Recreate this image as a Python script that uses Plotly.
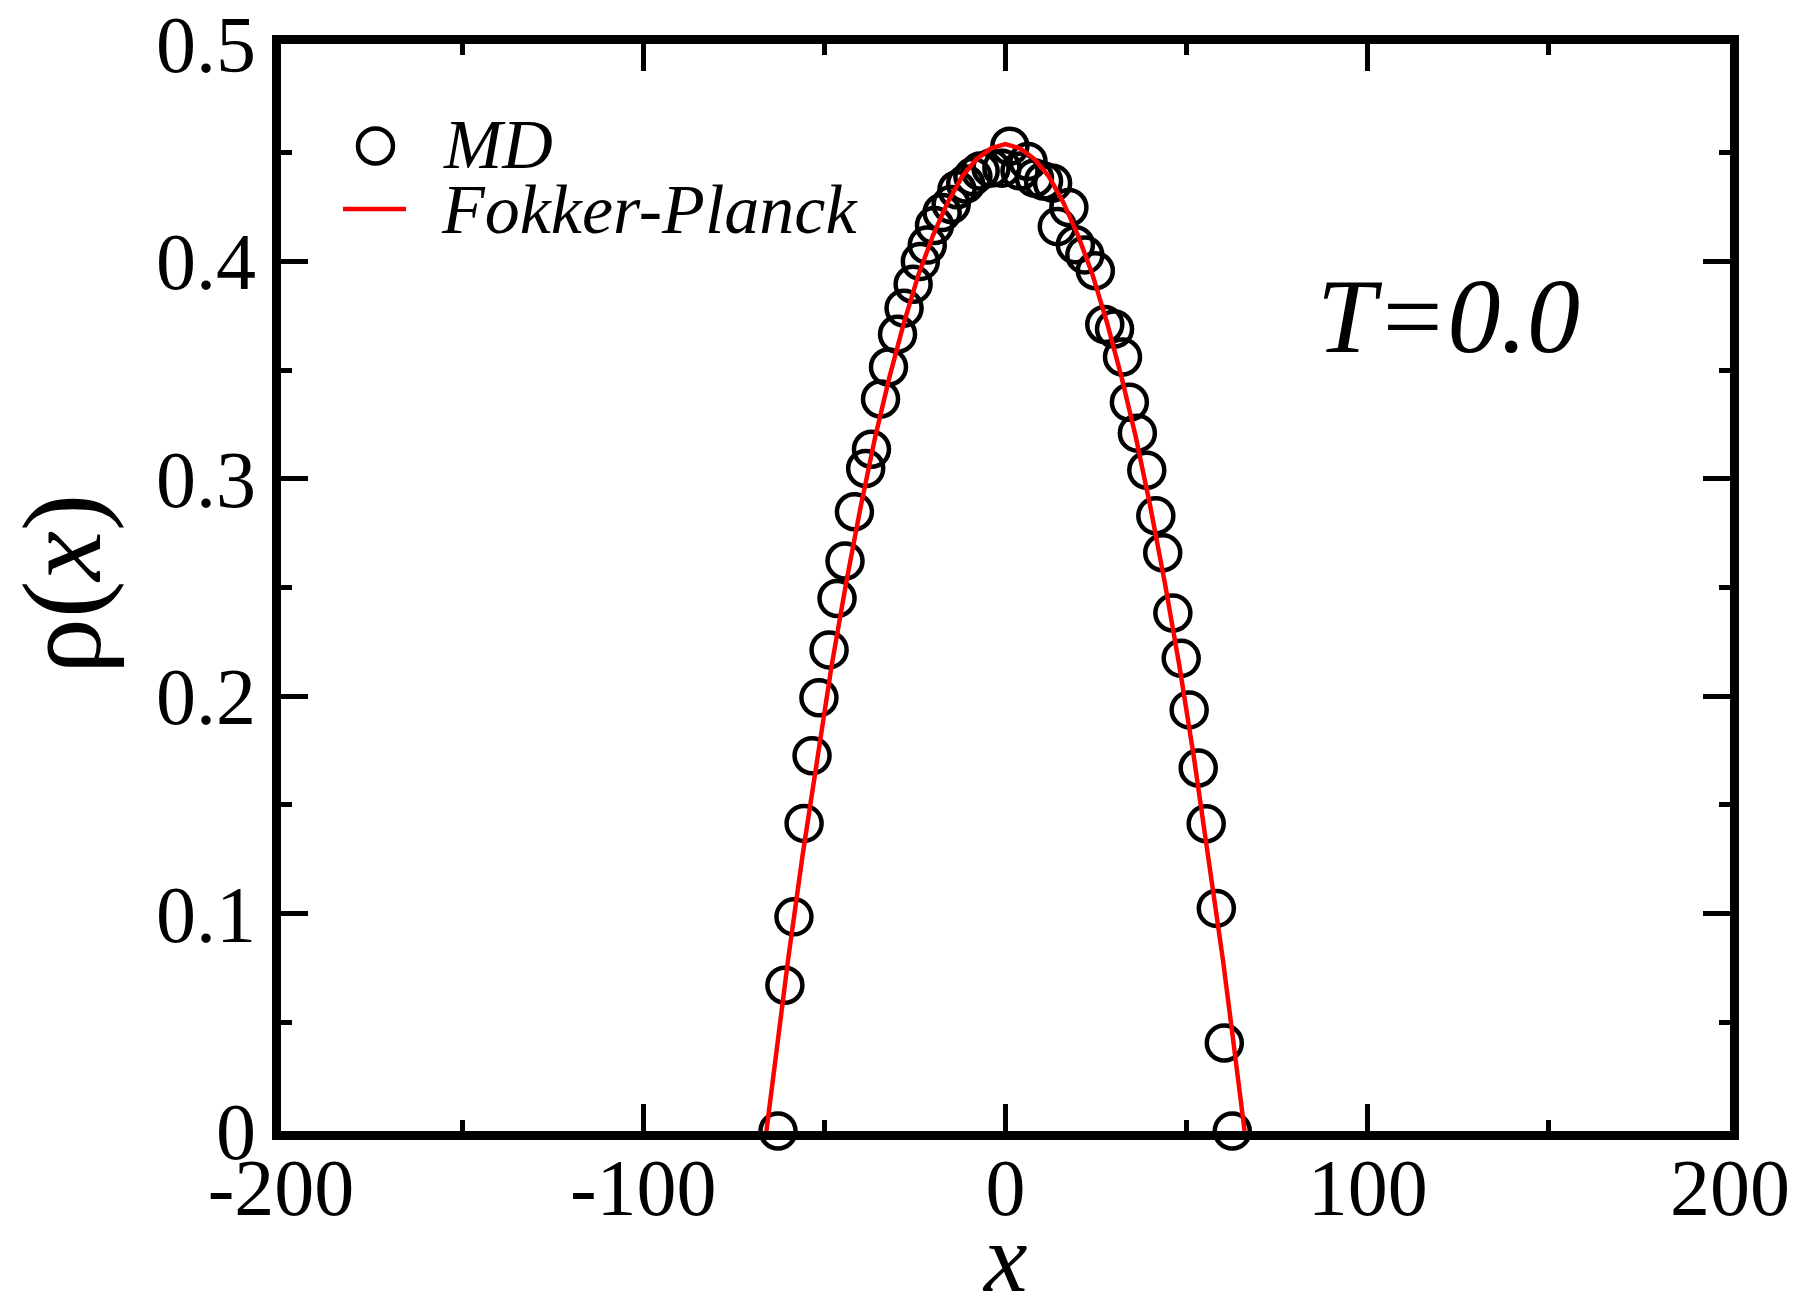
import plotly.graph_objects as go

# ---- data ----
md_x = [-62.8, -60.9, -58.4, -55.6, -53.4, -51.5, -48.7, -46.5, -44.3, -41.7,
        -38.6, -37.0, -34.5, -32.3, -29.8, -28.0, -25.5, -23.5, -21.6, -19.6,
        -17.5, -15.0, -13.4, -11.0, -9.0, -7.0, -4.0, -1.0, 1.2, 4.0,
        6.2, 8.0, 10.5, 13.0, 14.3, 17.5, 19.3, 21.9, 24.8, 27.4,
        30.1, 32.3, 34.2, 36.4, 39.0, 41.5, 43.4, 46.2, 48.5, 50.7,
        53.2, 55.4, 58.2, 60.4, 62.6]
md_y = [0.0, 0.067, 0.0985, 0.1415, 0.1726, 0.1993, 0.2213, 0.2449, 0.2622, 0.2848,
        0.3047, 0.3136, 0.3367, 0.3514, 0.3665, 0.3785, 0.3895, 0.4000, 0.4075, 0.4165,
        0.4225, 0.4262, 0.4330, 0.4356, 0.4390, 0.4416, 0.4430, 0.4429, 0.4530, 0.4416,
        0.4460, 0.4384, 0.4370, 0.4360, 0.4160, 0.4248, 0.4077, 0.4030, 0.3957, 0.3710,
        0.3689, 0.3560, 0.3352, 0.3210, 0.3039, 0.2830, 0.2660, 0.2383, 0.2174, 0.1937,
        0.1670, 0.1413, 0.1024, 0.0405, 0.0]

fp_x = [-66, -64, -62, -60, -56, -52, -48, -44, -40, -36, -32, -28, -24, -20, -16,
        -12, -8, -4, 0, 4, 8, 12, 16, 20, 24, 28, 32, 36, 40, 44, 48, 52, 56,
        60, 62, 64, 66]
fp_y = [0.0, 0.027, 0.053, 0.079, 0.127, 0.172, 0.214, 0.252, 0.287, 0.319, 0.347,
        0.372, 0.394, 0.412, 0.427, 0.439, 0.447, 0.452, 0.454, 0.452, 0.447, 0.439,
        0.427, 0.412, 0.394, 0.372, 0.347, 0.319, 0.287, 0.252, 0.214, 0.172, 0.127,
        0.079, 0.053, 0.027, 0.0]

x_tickvals = [-200, -100, 0, 100, 200]
x_ticktext = ["-200", "-100", "0", "100", "200"]
y_tickvals = [0, 0.1, 0.2, 0.3, 0.4, 0.5]
y_ticktext = ["0", "0.1", "0.2", "0.3", "0.4", "0.5"]

series_names = ["MD", "Fokker-Planck"]
label_text = "T=0.0"

# ---- layout geometry ----
W, H = 1795, 1305
L, R, T, B = 281, 65, 44, 174
PW, PH = W - L - R, H - T - B
FONT = "Liberation Serif"


def px(xp):
    return (xp - L) / PW


def py(yp):
    return (H - B - yp) / PH


fig = go.Figure()
fig.add_trace(go.Scatter(
    x=md_x, y=md_y, mode="markers", name=series_names[0],
    marker=dict(symbol="circle", size=35, color="rgba(255,255,255,0)",
                line=dict(color="black", width=4.5)),
    cliponaxis=False, showlegend=False))
fig.add_trace(go.Scatter(
    x=fp_x, y=fp_y, mode="lines", name=series_names[1],
    line=dict(color="#ff0000", width=4.5),
    cliponaxis=False, showlegend=False))

axis_common = dict(
    showline=True, linewidth=9, linecolor="black", mirror="allticks",
    ticks="inside", ticklen=27, tickwidth=5, tickcolor="black",
    showgrid=False, zeroline=False, layer="above traces", automargin=False,
    ticklabeloverflow="allow",
    tickfont=dict(family=FONT, size=80, color="black"),
)

fig.update_xaxes(range=[-200, 200], tickvals=x_tickvals, ticktext=x_ticktext,
                 minor=dict(ticks="inside", ticklen=11, tickwidth=5, tickcolor="black",
                            dtick=50, tick0=0, showgrid=False),
                 ticklabelstandoff=-21, **axis_common)
fig.update_yaxes(range=[0, 0.5], tickvals=y_tickvals, ticktext=y_ticktext,
                 minor=dict(ticks="inside", ticklen=11, tickwidth=5, tickcolor="black",
                            dtick=0.05, tick0=0, showgrid=False),
                 ticklabelstandoff=0, **axis_common)

annotations = [
    dict(text="ρ(<i>x</i>)", x=px(62), y=py(584), xref="paper", yref="paper",
         xanchor="center", yanchor="middle", textangle=-90, showarrow=False,
         font=dict(family=FONT, size=112, color="black")),
    dict(text="<i>x</i>", x=px(1005), y=py(1258), xref="paper", yref="paper",
         xanchor="center", yanchor="middle", showarrow=False,
         font=dict(family=FONT, size=98, color="black")),
    dict(text="<i>" + label_text + "</i>", x=px(1448), y=py(316), xref="paper", yref="paper",
         xanchor="center", yanchor="middle", showarrow=False,
         font=dict(family=FONT, size=106, color="black")),
    dict(text="<i>" + series_names[0] + "</i>", x=px(441), y=py(144), xref="paper", yref="paper",
         xanchor="left", yanchor="middle", showarrow=False,
         font=dict(family=FONT, size=70, color="black")),
    dict(text="<i>" + series_names[1] + "</i>", x=px(439), y=py(209), xref="paper", yref="paper",
         xanchor="left", yanchor="middle", showarrow=False,
         font=dict(family=FONT, size=70, color="black")),
]

shapes = [
    dict(type="circle", xref="paper", yref="paper", xsizemode="pixel", ysizemode="pixel",
         xanchor=px(375.5), yanchor=py(146), x0=-17.5, x1=17.5, y0=-17.5, y1=17.5,
         line=dict(color="black", width=4.5), fillcolor="rgba(0,0,0,0)"),
    dict(type="line", xref="paper", yref="paper", x0=px(343), x1=px(406),
         y0=py(209), y1=py(209), line=dict(color="#ff0000", width=4.5)),
]

fig.update_layout(
    width=W, height=H, margin=dict(l=L, r=R, t=T, b=B, pad=0),
    paper_bgcolor="white", plot_bgcolor="white",
    annotations=annotations, shapes=shapes, showlegend=False,
)

fig.write_html("out.html")
